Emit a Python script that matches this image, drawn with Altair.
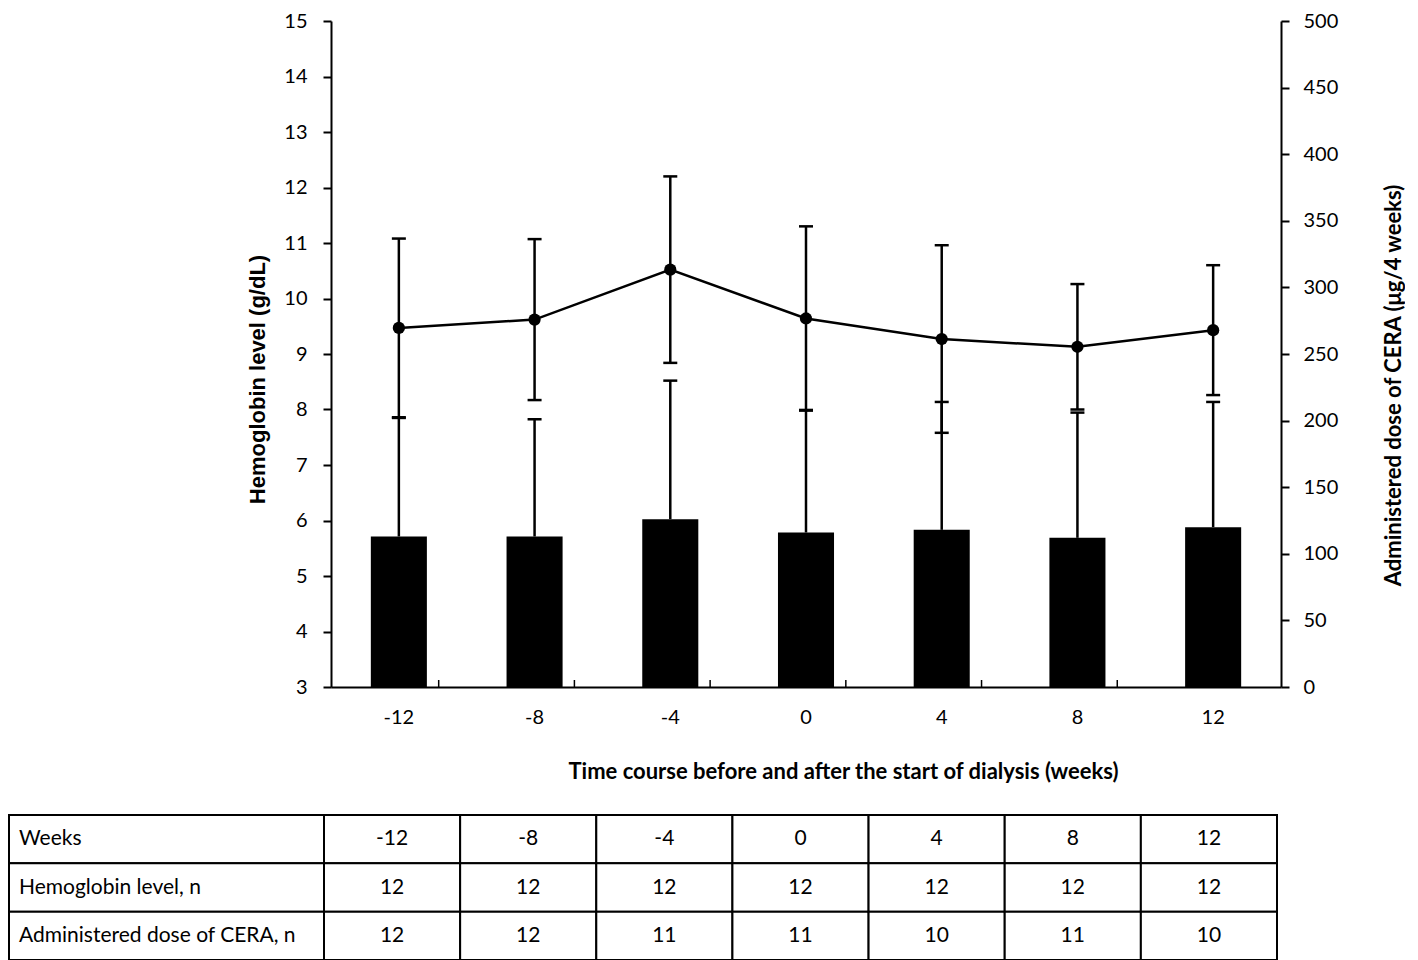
import altair as alt
import pandas as pd

weeks = ["-12", "-8", "-4", "0", "4", "8", "12"]
hb_mean = [9.47, 9.62, 10.52, 9.64, 9.27, 9.13, 9.43]
hb_sd = [1.61, 1.45, 1.68, 1.66, 1.69, 1.13, 1.17]
dose_mean = [113, 113, 126, 116, 118, 112, 120]
dose_sd = [89, 88, 104, 92, 96, 94, 94]
hb_n = [12, 12, 12, 12, 12, 12, 12]
dose_n = [12, 12, 11, 11, 10, 11, 10]
row_labels = ["Weeks", "Hemoglobin level, n", "Administered dose of CERA, n"]

W = 950
H = 666
FONT = "Lato"

df = pd.DataFrame({
    "week": weeks,
    "hb": hb_mean,
    "hb_lo": [m - s for m, s in zip(hb_mean, hb_sd)],
    "hb_hi": [m + s for m, s in zip(hb_mean, hb_sd)],
    "dose": dose_mean,
    "dose_hi": [m + s for m, s in zip(dose_mean, dose_sd)],
})

xband = alt.Scale(domain=weeks, paddingInner=0.587, paddingOuter=0.2935)
x_axis = alt.Axis(
    title="Time course before and after the start of dialysis (weeks)",
    labelAngle=0, labelFont=FONT, labelFontSize=20, labelColor="black",
    labelPadding=20, ticks=False, tickSize=0,
    domainColor="black", domainWidth=2,
    titleFont=FONT, titleFontSize=22, titleFontWeight="bold", titleColor="black",
    titleX=512, titleY=84, titleAlign="center", titleBaseline="middle",
)
x_enc = alt.X("week:O", sort=weeks, scale=xband, axis=x_axis)

dose_scale = alt.Scale(domain=[0, 500], nice=False, zero=True)
hb_scale = alt.Scale(domain=[3, 15], nice=False, zero=False)

dose_axis = alt.Axis(
    orient="right", values=list(range(0, 501, 50)), grid=False,
    tickSize=8, tickWidth=2, tickColor="black", domainColor="black", domainWidth=2,
    labelFont=FONT, labelFontSize=20, labelColor="black", labelPadding=14,
    title="Administered dose of CERA (\u03bcg/4 weeks)", titleAngle=270,
    titleFont=FONT, titleFontSize=22, titleFontWeight="bold", titleColor="black",
    titlePadding=68, titleY=364, titleAlign="center",
)
hb_axis = alt.Axis(
    orient="left", values=list(range(3, 16)), grid=False,
    tickSize=8, tickWidth=2, tickColor="black", domainColor="black", domainWidth=2,
    labelFont=FONT, labelFontSize=20, labelColor="black", labelPadding=16,
    title="Hemoglobin level (g/dL)", titleAngle=270,
    titleFont="Liberation Sans", titleFontSize=22, titleFontWeight="bold", titleColor="black",
    titlePadding=14, titleY=358, titleAlign="center",
)


def ydose(field):
    return alt.Y(field, scale=dose_scale, axis=dose_axis)


def yhb(field):
    return alt.Y(field, scale=hb_scale, axis=hb_axis)


base = alt.Chart(df)

bars = base.mark_bar(color="black").encode(x=x_enc, y=ydose("dose:Q"))
dose_err = base.mark_rule(color="black", strokeWidth=2.5).encode(
    x=x_enc, y=ydose("dose:Q"), y2="dose_hi:Q"
)
dose_cap = base.mark_tick(color="black", size=14, thickness=2.5, opacity=1).encode(
    x=x_enc, y=ydose("dose_hi:Q")
)
band_ticks = alt.Chart(pd.DataFrame({"week": weeks[:-1]})).mark_rule(
    color="black", strokeWidth=1.5
).encode(
    x=x_enc, xOffset=alt.value(W / 7 / 2), y=alt.value(H), y2=alt.value(H - 7)
)
dose_layer = alt.layer(bars, dose_err, dose_cap, band_ticks)

hb_line = base.mark_line(color="black", strokeWidth=2.5).encode(x=x_enc, y=yhb("hb:Q"))
hb_pts = base.mark_point(filled=True, color="black", size=150, opacity=1).encode(
    x=x_enc, y=yhb("hb:Q")
)
hb_err = base.mark_rule(color="black", strokeWidth=2.5).encode(
    x=x_enc, y=yhb("hb_lo:Q"), y2="hb_hi:Q"
)
hb_cap_hi = base.mark_tick(color="black", size=14, thickness=2.5, opacity=1).encode(
    x=x_enc, y=yhb("hb_hi:Q")
)
hb_cap_lo = base.mark_tick(color="black", size=14, thickness=2.5, opacity=1).encode(
    x=x_enc, y=yhb("hb_lo:Q")
)
hb_layer = alt.layer(hb_line, hb_err, hb_cap_hi, hb_cap_lo, hb_pts)

main = alt.layer(hb_layer, dose_layer).resolve_scale(y="independent").properties(
    width=W, height=H
)

# ---- table ----
tbl_rows = []
for i, w in enumerate(weeks):
    tbl_rows.append({"row": row_labels[0], "week": w, "val": w})
    tbl_rows.append({"row": row_labels[1], "week": w, "val": str(hb_n[i])})
    tbl_rows.append({"row": row_labels[2], "week": w, "val": str(dose_n[i])})
tdf = pd.DataFrame(tbl_rows)
ldf = pd.DataFrame({"row": row_labels})

tx = alt.X("week:O", sort=weeks, axis=None,
           scale=alt.Scale(domain=weeks, paddingInner=0, paddingOuter=0, range=[-7, 946]))
ty = alt.Y("row:N", sort=row_labels, axis=None,
           scale=alt.Scale(domain=row_labels, paddingInner=0, paddingOuter=0))

cells = alt.Chart(tdf).mark_rect(fill="white", stroke="black", strokeWidth=2).encode(x=tx, y=ty)
cell_txt = alt.Chart(tdf).mark_text(font=FONT, fontSize=21, color="black").encode(
    x=tx, y=ty, text="val:N"
)
lab_cells = alt.Chart(ldf).mark_rect(fill="white", stroke="black", strokeWidth=2).encode(
    x=alt.value(-322), x2=alt.value(-7), y=ty
)
lab_txt = alt.Chart(ldf).mark_text(font=FONT, fontSize=21, color="black", align="left").encode(
    x=alt.value(-312), y=ty, text="row:N"
)
table = alt.layer(lab_cells, cells, lab_txt, cell_txt).properties(width=W, height=145)

chart = alt.vconcat(main, table, spacing=32).properties(
    padding={"left": 0, "top": 3, "right": 0, "bottom": 0},
    background="white",
).configure_view(stroke=None)

chart.save("out.html", embed_options={"renderer": "svg", "actions": False})
